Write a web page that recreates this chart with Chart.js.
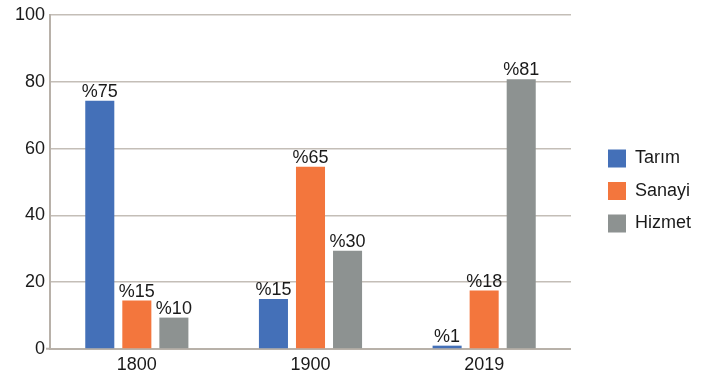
<!DOCTYPE html>
<html>
<head>
<meta charset="utf-8">
<script src="https://cdn.jsdelivr.net/npm/chart.js@4.4.1/dist/chart.umd.min.js"></script>
<style>
  html, body { margin: 0; padding: 0; background: #ffffff; }
  #wrap { width: 706px; height: 382px; }
</style>
</head>
<body>
<div id="wrap"><canvas id="c" width="706" height="382"></canvas></div>
<script>
// ---- data ----
const categories = ['1800', '1900', '2019'];
const seriesNames = ['Tarım', 'Sanayi', 'Hizmet'];
const tarim = [74.3, 15.0, 1.0];
const sanayi = [14.5, 54.6, 17.5];
const hizmet = [9.4, 29.4, 80.8];
const tarimLabels = ['%75', '%15', '%1'];
const sanayiLabels = ['%15', '%65', '%18'];
const hizmetLabels = ['%10', '%30', '%81'];
const yTicks = [0, 20, 40, 60, 80, 100];

// ---- styles ----
const colors = ['#4470b8', '#f3763d', '#8d9291'];
const FONT = "'Liberation Sans', Arial, sans-serif";
const TEXT = '#1a1a1a';
const valueLabels = [tarimLabels, sanayiLabels, hizmetLabels];

const barLabelPlugin = {
  id: 'barLabels',
  afterDatasetsDraw(chart) {
    const ctx = chart.ctx;
    ctx.save();
    ctx.font = '18px ' + FONT;
    ctx.fillStyle = TEXT;
    ctx.textAlign = 'center';
    ctx.textBaseline = 'alphabetic';
    chart.data.datasets.forEach((ds, i) => {
      const meta = chart.getDatasetMeta(i);
      meta.data.forEach((el, j) => {
        ctx.fillText(valueLabels[i][j], el.x, el.y - 4);
      });
    });
    ctx.restore();
  }
};

new Chart(document.getElementById('c'), {
  type: 'bar',
  data: {
    labels: categories,
    datasets: [
      { label: seriesNames[0], data: tarim, backgroundColor: colors[0] },
      { label: seriesNames[1], data: sanayi, backgroundColor: colors[1] },
      { label: seriesNames[2], data: hizmet, backgroundColor: colors[2] }
    ]
  },
  options: {
    responsive: false,
    animation: false,
    devicePixelRatio: 1,
    categoryPercentage: 0.64,
    barPercentage: 0.784,
    layout: { padding: { top: 0, right: 5, bottom: 0, left: 0 } },
    plugins: {
      legend: {
        position: 'right',
        align: 'center',
        labels: {
          boxWidth: 18,
          boxHeight: 18,
          padding: 14.5,
          color: TEXT,
          font: { family: FONT, size: 18 }
        }
      },
      tooltip: { enabled: false }
    },
    scales: {
      x: {
        grid: { display: false, drawTicks: false },
        border: { display: true, color: '#b8b1a9', width: 2 },
        ticks: { color: TEXT, font: { family: FONT, size: 18 }, padding: 5 },
        afterFit(s) { s.height = 33; }
      },
      y: {
        min: 0,
        max: 100,
        afterBuildTicks(s) { s.ticks = yTicks.map(v => ({ value: v })); },
        grid: {
          color: '#c4beb7',
          lineWidth: 1.5,
          drawTicks: true,
          tickLength: 4,
          tickColor: (c) => (c.tick && c.tick.value === 0 ? '#b8b1a9' : 'rgba(0,0,0,0)'),
          tickWidth: 2
        },
        border: { display: true, color: '#b8b1a9', width: 2 },
        ticks: { color: TEXT, font: { family: FONT, size: 18 }, padding: 1 },
        afterFit(s) { s.width = 50; s.paddingTop = 15; }
      },
      yR: {
        type: 'linear',
        position: 'right',
        display: true,
        grid: { display: false, drawTicks: false },
        border: { display: false },
        ticks: { display: false },
        afterFit(s) { s.width = 22.5; }
      }
    }
  },
  plugins: [barLabelPlugin]
});
</script>
</body>
</html>
